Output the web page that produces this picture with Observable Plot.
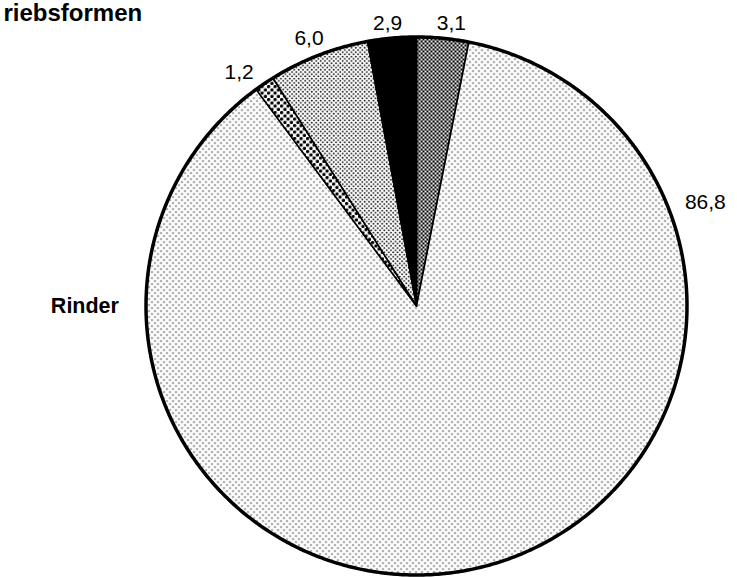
<!DOCTYPE html>
<html><head><meta charset="utf-8">
<script src="https://cdn.jsdelivr.net/npm/d3@7"></script>
<script src="https://cdn.jsdelivr.net/npm/@observablehq/plot@0.6"></script>
<style>
html,body{margin:0;padding:0;background:#fff;}
#chart{position:relative;width:737px;height:577px;overflow:hidden;}
</style></head><body><div id="chart"></div>
<script>
// ---- data ----
const title = "riebsformen";
const slices = ["s1", "s2", "s3", "s4", "s5"];
const values = [3.1, 86.8, 1.2, 6.0, 2.9];
const valueLabels = ["3,1", "86,8", "1,2", "6,0", "2,9"];
const categoryLabels = ["", "Rinder", "", "", ""];
const patterns = ["checker", "fine", "coarse", "medium", "solid"];

// ---- layout (annotation placement, polar: degrees clockwise from top, radius factor) ----
const labelPlacement = [
  {angle: 7.0, r: 1.06, anchor: "middle"},
  {angle: 68.7, r: 1.065, anchor: "start"},
  {angle: -37.0, r: 1.09, anchor: "middle"},
  {angle: -21.8, r: 1.07, anchor: "middle"},
  {angle: -5.8, r: 1.055, anchor: "middle"}
];
const catPlacement = {angle: 270, r: 1.10, anchor: "end"};

const rad = a => a * Math.PI / 180;
const polar = (a, r) => ({x: r * Math.sin(rad(a)), y: r * Math.cos(rad(a))});

const total = d3.sum(values);
let cum = 0;
const sliceData = slices.map((s, i) => {
  const a0 = cum, a1 = cum + values[i] / total * 360;
  cum = a1;
  const n = Math.max(2, Math.ceil((a1 - a0) / 0.5));
  const pts = [{x: 0, y: 0}];
  for (let k = 0; k <= n; k++) pts.push(polar(a0 + (a1 - a0) * k / n, 1));
  pts.push({x: 0, y: 0});
  return {s, a0, a1, pts, pattern: patterns[i]};
});

const circle = d3.range(0, 361, 0.5).map(a => polar(a, 1));

const valueText = valueLabels.map((t, i) => ({t, ...polar(labelPlacement[i].angle, labelPlacement[i].r), anchor: labelPlacement[i].anchor}));
const catText = categoryLabels.map((t, i) => ({t, i})).filter(d => d.t).map(d => ({t: d.t, ...polar(catPlacement.angle, catPlacement.r)}));

const marks = [];
sliceData.forEach(d => {
  marks.push(Plot.line(d.pts, {
    x: "x", y: "y",
    fill: d.pattern === "solid" ? "black" : `url(#pat-${d.pattern})`,
    stroke: "black", strokeWidth: 1.6, strokeLinejoin: "miter"
  }));
});
marks.push(Plot.line(circle, {x: "x", y: "y", stroke: "black", strokeWidth: 3.5}));
["start", "middle", "end"].forEach(anc => {
  const sub = valueText.filter(d => d.anchor === anc);
  if (sub.length) marks.push(Plot.text(sub, {x: "x", y: "y", text: "t", textAnchor: anc, fontSize: 21, fill: "black"}));
});
marks.push(Plot.text(catText, {x: "x", y: "y", text: "t", textAnchor: "end", fontSize: 21.5, fontWeight: "bold", fill: "black"}));
marks.push(Plot.text([title], {frameAnchor: "top-left", textAnchor: "start", lineAnchor: "top", dx: 3, dy: 3, fontSize: 24, fontWeight: "bold", fill: "black"}));

const svg = Plot.plot({
  width: 737, height: 577,
  margin: 0,
  style: {fontFamily: "'Liberation Sans', Arial, Helvetica, sans-serif", background: "white", overflow: "hidden"},
  x: {domain: [-1, 1], range: [145.5, 686.5], axis: null},
  y: {domain: [-1, 1], range: [574.5, 36.5], axis: null},
  marks
});

// patterns
const defs = d3.select(svg).insert("defs", ":first-child");
function dotPattern(id, s, r, color, bg) {
  const p = defs.append("pattern").attr("id", id).attr("patternUnits", "userSpaceOnUse")
    .attr("width", s).attr("height", s);
  p.append("rect").attr("width", s).attr("height", s).attr("fill", bg);
  [[s / 4, s / 4], [3 * s / 4, 3 * s / 4]].forEach(([cx, cy]) =>
    p.append("circle").attr("cx", cx).attr("cy", cy).attr("r", r).attr("fill", color));
}
dotPattern("pat-fine", 6, 0.85, "#333", "white");
dotPattern("pat-medium", 4.4, 0.95, "#111", "white");
dotPattern("pat-coarse", 6.5, 1.7, "#000", "white");
dotPattern("pat-checker", 4, 1.25, "#000", "white");

document.getElementById("chart").appendChild(svg);
</script></body></html>
